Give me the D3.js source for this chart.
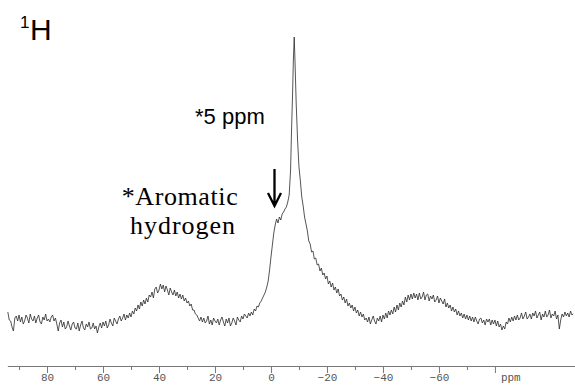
<!DOCTYPE html>
<html><head><meta charset="utf-8">
<script src="https://cdn.jsdelivr.net/npm/d3@7"></script>
<style>html,body{margin:0;padding:0;background:#fff;}svg{display:block;}</style>
</head><body>
<svg id="chart" width="575" height="392"></svg>
<script>
// chemical shift (ppm) of each sampled point
const ppm = [
 94,93.5,93,92.5,92,91.5,91,90.5,90,89.5,
 89,88.5,88,87.5,87,86.5,86,85.5,85,84.5,
 84,83.5,83,82.5,82,81.5,81,80.5,80,79.5,
 79,78.5,78,77.5,77,76.5,76,75.5,75,74.5,
 74,73.5,73,72.5,72,71.5,71,70.5,70,69.5,
 69,68.5,68,67.5,67,66.5,66,65.5,65,64.5,
 64,63.5,63,62.5,62,61.5,61,60.5,60,59.5,
 59,58.5,58,57.5,57,56.5,56,55.5,55,54.5,
 54,53.5,53,52.5,52,51.5,51,50.5,50,49.5,
 49,48.5,48,47.5,47,46.5,46,45.5,45,44.5,
 44,43.5,43,42.5,42,41.5,41,40.5,40,39.5,
 39,38.5,38,37.5,37,36.5,36,35.5,35,34.5,
 34,33.5,33,32.5,32,31.5,31,30.5,30,29.5,
 29,28.5,28,27.5,27,26.5,26,25.5,25,24.5,
 24,23.5,23,22.5,22,21.5,21,20.5,20,19.5,
 19,18.5,18,17.5,17,16.5,16,15.5,15,14.5,
 14,13.5,13,12.5,12,11.5,11,10.5,10,9.5,
 9,8.5,8,7.5,7,6.5,6,5.5,5,4.5,
 4,3.5,3,2.5,2,1.5,1,0.5,0,
 -0.5,-1,-1.5,-2,-2.5,-3,-3.5,-4,-4.5,-5,-5.5,-6,-6.5,
 -7,-7.3,-7.7,-8,-8.3,-8.6,-9,-9.5,-10,-10.5,-11,-11.5,-12,-12.5,
 -13,-13.5,-14,-14.5,-15,-15.5,-16,-16.5,-17,-17.5,
 -18,-18.5,-19,-19.5,-20,-20.5,-21,-21.5,-22,-22.5,
 -23,-23.5,-24,-24.5,-25,-25.5,-26,-26.5,-27,-27.5,
 -28,-28.5,-29,-29.5,-30,-30.5,-31,-31.5,-32,-32.5,
 -33,-33.5,-34,-34.5,-35,-35.5,-36,-36.5,-37,-37.5,
 -38,-38.5,-39,-39.5,-40,-40.5,-41,-41.5,-42,-42.5,
 -43,-43.5,-44,-44.5,-45,-45.5,-46,-46.5,-47,-47.5,
 -48,-48.5,-49,-49.5,-50,-50.5,-51,-51.5,-52,-52.5,
 -53,-53.5,-54,-54.5,-55,-55.5,-56,-56.5,-57,-57.5,
 -58,-58.5,-59,-59.5,-60,-60.5,-61,-61.5,-62,-62.5,
 -63,-63.5,-64,-64.5,-65,-65.5,-66,-66.5,-67,-67.5,
 -68,-68.5,-69,-69.5,-70,-70.5,-71,-71.5,-72,-72.5,
 -73,-73.5,-74,-74.5,-75,-75.5,-76,-76.5,-77,-77.5,
 -78,-78.5,-79,-79.5,-80,-80.5,-81,-81.5,-82,-82.5,
 -83,-83.5,-84,-84.5,-85,-85.5,-86,-86.5,-87,-87.5,
 -88,-88.5,-89,-89.5,-90,-90.5,-91,-91.5,-92,-92.5,
 -93,-93.5,-94,-94.5,-95,-95.5,-96,-96.5,-97,-97.5,
 -98,-98.5,-99,-99.5,-100,-100.5,-101,-101.5,-102,-102.5,
 -103,-103.5,-104,-104.5,-105,-105.5,-106,-106.5,-107,-107.5,
 -108
];
// signal intensity (arbitrary units)
const intensity = [
 33,25,24,18,14,27,29,24,30,23,
 28,21,24,30,27,22,31,26,24,29,
 22,27,30,23,21,28,25,31,24,26,
 23,28,30,24,27,21,14,22,25,18,
 23,16,18,24,19,15,21,23,17,16,
 22,14,20,24,17,15,21,18,23,16,
 17,22,16,19,12,18,22,17,23,19,
 24,17,20,26,22,19,27,24,21,26,
 29,24,27,31,25,30,27,32,28,34,
 31,37,34,40,36,43,39,45,41,47,
 43,50,48,53,47,56,58,52,55,61,
 56,60,53,59,55,50,57,53,50,55,
 49,53,47,51,46,50,44,47,42,44,
 39,41,35,35,31,30,27,24,28,23,
 27,22,24,29,21,25,20,27,24,22,
 26,20,25,28,23,19,26,22,27,19,
 22,27,24,20,28,25,23,29,26,31,
 29,27,32,29,33,30,36,34,39,38,
 42,44,47,50,53,58,64,75,88,
 100,112,120,126,122,128,125,131,133,136,138,143,150,
 175,210,250,285,308,282,242,205,178,164,148,139,128,121,
 114,104,101,93,94,86,87,80,81,74,
 77,70,72,66,69,61,64,58,62,55,
 58,52,56,49,51,45,48,42,46,39,
 42,37,40,34,38,32,35,29,33,28,
 31,25,27,23,28,21,25,29,24,21,
 27,24,29,23,30,26,32,27,34,30,
 35,31,38,33,40,35,42,38,44,40,
 48,43,50,45,51,46,52,47,51,45,
 52,46,48,53,45,50,51,44,49,46,
 50,43,45,49,42,47,44,41,46,38,
 42,37,40,34,38,33,36,30,34,29,
 32,27,31,26,30,25,29,24,28,23,
 28,24,21,26,27,22,25,20,26,23,
 26,20,25,21,25,19,24,18,21,15,
 19,16,23,21,27,23,28,24,29,25,
 30,25,27,32,26,29,33,26,28,31,
 26,32,29,34,27,30,33,25,31,28,
 34,28,30,35,27,31,29,34,26,30,
 16,25,31,28,33,29,32,28,34,30,
 31
];
const majorTicks = [80, 60, 40, 20, 0, -20, -40, -60, -80];
const minorTicks = [90, 70, 50, 30, 10, -10, -30, -50, -70];
const unitLabel = "ppm";
const nucleusMass = "1";
const nucleusSymbol = "H";
const peakLabel = "*5 ppm";
const shoulderLabel = ["*Aromatic", "hydrogen"];

if (ppm.length !== intensity.length) throw new Error("length mismatch " + ppm.length + " vs " + intensity.length);

const svg = d3.select("#chart");
const x = d3.scaleLinear().domain([96.8, -108.6]).range([0, 575]);
const y = d3.scaleLinear().domain([0, 310]).range([345, 35]);

const data = ppm.map((p, i) => ({p, v: intensity[i]}));

// spectrum
svg.append("path")
  .datum(data)
  .attr("fill", "none")
  .attr("stroke", "#2a2a2a")
  .attr("stroke-width", 0.8)
  .attr("stroke-linejoin", "round")
  .attr("d", d3.line().x(d => x(d.p)).y(d => y(d.v)));

// axis
const axisY = 366;
const fmt = d => d === -80 ? "" : (d < 0 ? "\u2212" + Math.abs(d) : String(d));
const gMaj = svg.append("g").attr("transform", `translate(0,${axisY})`)
  .call(d3.axisBottom(x).tickValues(majorTicks).tickSize(7).tickSizeOuter(0).tickPadding(0).tickFormat(fmt));
const gMin = svg.append("g").attr("transform", `translate(0,${axisY})`)
  .call(d3.axisBottom(x).tickValues(minorTicks).tickSize(4).tickSizeOuter(0).tickFormat(""));
[gMaj, gMin].forEach(g => {
  g.select(".domain").remove();
  g.selectAll(".tick line").attr("stroke", "#777").attr("stroke-width", 1);
});
gMaj.selectAll(".tick text")
  .attr("fill", "#555")
  .style("font-family", "'Liberation Mono', 'DejaVu Sans Mono', monospace")
  .style("font-size", "11px");
svg.append("line")
  .attr("x1", x(94)).attr("x2", 575)
  .attr("y1", axisY + 0.5).attr("y2", axisY + 0.5)
  .attr("stroke", "#777").attr("stroke-width", 1);
svg.append("text")
  .attr("x", x(-80) + 6).attr("y", 380.8)
  .attr("fill", "#555")
  .style("font-family", "'Liberation Mono', 'DejaVu Sans Mono', monospace")
  .style("font-size", "11px")
  .text(unitLabel);

// nucleus label
svg.append("text").attr("x", 20).attr("y", 28)
  .style("font-family", "'Liberation Sans', Arial, sans-serif").style("font-size", "17px")
  .attr("fill", "#000").text(nucleusMass);
svg.append("text").attr("x", 30).attr("y", 40)
  .style("font-family", "'Liberation Sans', Arial, sans-serif").style("font-size", "30px")
  .attr("fill", "#000").text(nucleusSymbol);

// peak label
svg.append("text").attr("x", 195).attr("y", 124)
  .style("font-family", "'Liberation Sans', Arial, sans-serif").style("font-size", "22px")
  .attr("fill", "#000").text(peakLabel);

// shoulder label
svg.append("text").attr("x", 180).attr("y", 205).attr("text-anchor", "middle")
  .style("font-family", "'Liberation Serif', 'Times New Roman', serif").style("font-size", "26px")
  .style("letter-spacing", "0.6px")
  .attr("fill", "#000").text(shoulderLabel[0]);
svg.append("text").attr("x", 183).attr("y", 234).attr("text-anchor", "middle")
  .style("font-family", "'Liberation Serif', 'Times New Roman', serif").style("font-size", "26px")
  .style("letter-spacing", "1px")
  .attr("fill", "#000").text(shoulderLabel[1]);

// arrow
const ax = 274.5;
svg.append("path")
  .attr("d", `M${ax},169 L${ax},206 M${ax - 6.5},193 L${ax},206 L${ax + 6.5},193`)
  .attr("fill", "none").attr("stroke", "#000").attr("stroke-width", 2.3)
  .attr("stroke-linejoin", "miter");
</script>
</body></html>
